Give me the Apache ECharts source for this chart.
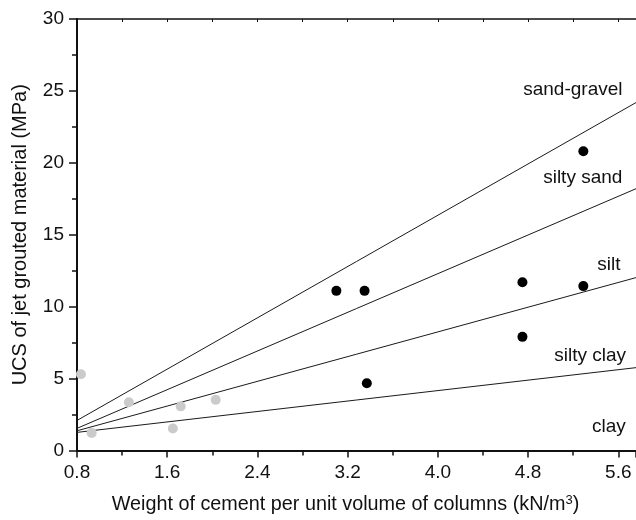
<!DOCTYPE html>
<html>
<head>
<meta charset="utf-8">
<script src="https://cdn.jsdelivr.net/npm/echarts@6/dist/echarts.min.js"></script>
<style>html,body{margin:0;padding:0;background:#fff}#c{width:636px;height:520px}</style>
</head>
<body>
<div id="c"></div>
<script>
// ---- data ----
const xMin = 0.8, xMax = 5.757;
const xTicks = ['0.8', '1.6', '2.4', '3.2', '4.0', '4.8', '5.6'];
const yTicks = [0, 5, 10, 15, 20, 25, 30];
const grayPoints = [[0.835, 5.3], [0.93, 1.22], [1.26, 3.36], [1.65, 1.53], [1.72, 3.07], [2.03, 3.52]];
const blackPoints = [[3.10, 11.1], [3.35, 11.1], [3.37, 4.67], [4.75, 11.7], [4.75, 7.9], [5.29, 11.43], [5.29, 20.8]];
const lineNames = ['sand-gravel', 'silty sand', 'silt', 'silty clay'];
const lineStart = [2.09, 1.54, 1.37, 1.26];   // UCS at x = 0.8
const lineEnd = [24.19, 18.2, 12.02, 5.76];   // UCS at right edge
const zoneLabels = ['sand-gravel', 'silty sand', 'silt', 'silty clay', 'clay'];
const zoneLabelPos = [[5.197, 25.1], [5.285, 18.96], [5.516, 12.88], [5.35, 6.59], [5.516, 1.68]];

// ---- chart ----
const FONT = 'Liberation Sans, Arial, Helvetica, sans-serif';
const TXT = '#111';
const chart = echarts.init(document.getElementById('c'), null, {renderer: 'canvas'});

const series = [];
lineNames.forEach((n, i) => {
  series.push({
    type: 'line', name: n, symbol: 'none', silent: true, z: 2,
    data: [[xMin, lineStart[i]], [xMax, lineEnd[i]]],
    lineStyle: {color: '#1a1a1a', width: 1}
  });
});
series.push({
  type: 'scatter', name: 'gray', symbolSize: 10, z: 3, silent: true,
  itemStyle: {color: '#cbcbcb', opacity: 1}, data: grayPoints
});
series.push({
  type: 'scatter', name: 'black', symbolSize: 10, z: 4, silent: true,
  itemStyle: {color: '#000', opacity: 1}, data: blackPoints
});
series.push({
  type: 'scatter', name: 'labels', symbolSize: 0, z: 5, silent: true,
  itemStyle: {opacity: 1},
  data: zoneLabels.map((t, i) => ({value: zoneLabelPos[i], name: t})),
  label: {
    show: true, position: 'inside', formatter: p => p.name,
    fontFamily: FONT, fontSize: 19, color: TXT, opacity: 1
  }
});

chart.setOption({
  animation: false,
  backgroundColor: '#fff',
  grid: {left: 77, right: 0, top: 19, bottom: 67, containLabel: false},
  xAxis: [{
    type: 'value', position: 'bottom', min: xMin, max: xMax, interval: 0.8,
    axisLine: {show: true, lineStyle: {color: TXT, width: 2}},
    axisTick: {show: true, inside: false, length: 7, lineStyle: {color: TXT, width: 1.5}},
    minorTick: {show: true, splitNumber: 2, length: 5, lineStyle: {color: TXT, width: 1.5}},
    splitLine: {show: false},
    axisLabel: {
      fontFamily: FONT, fontSize: 19, color: TXT, margin: 13, showMaxLabel: false,
      formatter: v => { const s = v.toFixed(1); return xTicks.indexOf(s) >= 0 ? s : ''; }
    },
    name: 'Weight of cement per unit volume of columns (kN/m{sup|3})',
    nameLocation: 'middle', nameGap: 43,
    nameTextStyle: {
      fontFamily: FONT, fontSize: 19.8, color: TXT, padding: [0, 22, 0, 0],
      rich: {sup: {fontFamily: FONT, fontSize: 13, color: TXT, verticalAlign: 'top', padding: [0, 0, 10, 0]}}
    }
  }, {
    type: 'value', position: 'top', min: xMin, max: xMax, interval: 0.4,
    axisLine: {show: true, onZero: false, lineStyle: {color: TXT, width: 1.5}},
    axisTick: {show: true, inside: true, length: 3, lineStyle: {color: TXT, width: 1}},
    axisLabel: {show: false}, splitLine: {show: false}
  }],
  yAxis: {
    type: 'value', min: 0, max: 30, interval: 5,
    axisLine: {show: true, lineStyle: {color: TXT, width: 2}},
    axisTick: {show: true, inside: false, length: 8, lineStyle: {color: TXT, width: 1.5}},
    minorTick: {show: true, splitNumber: 2, length: 5, lineStyle: {color: TXT, width: 1.5}},
    splitLine: {show: false},
    axisLabel: {
      fontFamily: FONT, fontSize: 19, color: TXT, margin: 13,
      formatter: v => (yTicks.indexOf(v) >= 0 ? String(v) : '')
    },
    name: 'UCS of jet grouted material (MPa)',
    nameLocation: 'middle', nameGap: 47,
    nameTextStyle: {fontFamily: FONT, fontSize: 20, color: TXT}
  },
  series: series
});
</script>
</body>
</html>
